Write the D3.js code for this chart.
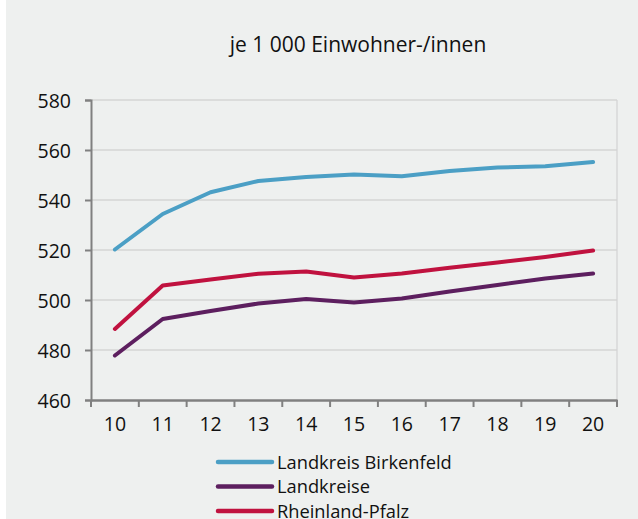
<!DOCTYPE html>
<html>
<head>
<meta charset="utf-8">
<script src="https://cdn.jsdelivr.net/npm/d3@7"></script>
<style>
  body { margin: 0; background: #ffffff; }
  svg { display: block; }
  text { font-family: "Open Sans", sans-serif; fill: #111; }
</style>
</head>
<body>
<script>
// years (20xx), shown as two digits
var years = ["10", "11", "12", "13", "14", "15", "16", "17", "18", "19", "20"];

var birkenfeld = [520.2, 534.4, 543.1, 547.6, 549.2, 550.2, 549.5, 551.6, 553.0, 553.5, 555.2];
var landkreise = [477.8, 492.4, 495.6, 498.6, 500.4, 499.0, 500.6, 503.4, 506.0, 508.6, 510.6];
var rlp = [488.4, 505.8, 508.2, 510.5, 511.4, 509.0, 510.6, 512.9, 515.0, 517.2, 519.8];

var yTicks = [460, 480, 500, 520, 540, 560, 580];

var series = [
  {name: "Landkreis Birkenfeld", values: birkenfeld, color: "#4b9fc5"},
  {name: "Landkreise", values: landkreise, color: "#5d1f5f"},
  {name: "Rheinland-Pfalz", values: rlp, color: "#c0123f"}
];

var W = 638, H = 519;
var margin = {top: 100, right: 21, bottom: 119, left: 91};
var w = W - margin.left - margin.right;
var h = H - margin.top - margin.bottom;

var svg = d3.select("body").append("svg")
  .attr("width", W)
  .attr("height", H);

// grey panel (thin white strip on the left)
svg.append("rect")
  .attr("x", 6).attr("y", 0)
  .attr("width", W - 6).attr("height", H)
  .attr("fill", "#eef0ef");

svg.append("text")
  .attr("x", 358)
  .attr("y", 52)
  .attr("text-anchor", "middle")
  .style("font-size", "21px")
  .text("je 1 000 Einwohner-/innen");

var g = svg.append("g")
  .attr("transform", "translate(" + margin.left + "," + margin.top + ")");

var x = d3.scaleBand().domain(years).range([0, w]);
var y = d3.scaleLinear().domain([460, 580]).range([h, 0]);

// gridlines
g.selectAll(".grid")
  .data(yTicks.slice(1))
  .enter().append("line")
  .attr("x1", 0).attr("x2", w)
  .attr("y1", function(d) { return y(d); })
  .attr("y2", function(d) { return y(d); })
  .attr("stroke", "#c8c8c8")
  .attr("stroke-width", 1.2);

// right border
g.append("line")
  .attr("x1", w).attr("x2", w)
  .attr("y1", 0).attr("y2", h)
  .attr("stroke", "#d2d2d2")
  .attr("stroke-width", 1.2);

// y axis
var yAxis = g.append("g")
  .call(d3.axisLeft(y).tickValues(yTicks).tickSize(6).tickPadding(14));
yAxis.select(".domain").attr("stroke", "#808080").attr("stroke-width", 2);
yAxis.selectAll(".tick line").attr("stroke", "#808080").attr("stroke-width", 2);
yAxis.selectAll("text").style("font-size", "19.5px").attr("fill", "#111")
  .attr("dy", "0.36em");

// x axis with ticks at band edges
var xAxis = g.append("g")
  .attr("transform", "translate(0," + h + ")")
  .call(d3.axisBottom(x).tickSize(0).tickPadding(17));
xAxis.select(".domain").attr("stroke", "#808080").attr("stroke-width", 2.5);
xAxis.selectAll("text").style("font-size", "19.5px").attr("fill", "#111");
var edges = years.map(function(d) { return x(d); }).concat([w]);
xAxis.selectAll(".edge")
  .data(edges)
  .enter().append("line")
  .attr("x1", function(d) { return d; })
  .attr("x2", function(d) { return d; })
  .attr("y1", 0).attr("y2", 7)
  .attr("stroke", "#808080")
  .attr("stroke-width", 2);

var line = d3.line()
  .x(function(d, i) { return x(years[i]) + x.bandwidth() / 2; })
  .y(function(d) { return y(d); });

g.selectAll(".series")
  .data(series)
  .enter().append("path")
  .attr("d", function(d) { return line(d.values); })
  .attr("fill", "none")
  .attr("stroke", function(d) { return d.color; })
  .attr("stroke-width", 4)
  .attr("stroke-linecap", "round")
  .attr("stroke-linejoin", "round");

// legend
var legend = svg.selectAll(".legend")
  .data(series)
  .enter().append("g")
  .attr("transform", function(d, i) { return "translate(218," + (462 + i * 24.5) + ")"; });

legend.append("line")
  .attr("x1", 0).attr("x2", 54)
  .attr("y1", 0).attr("y2", 0)
  .attr("stroke", function(d) { return d.color; })
  .attr("stroke-width", 4.5)
  .attr("stroke-linecap", "round");

legend.append("text")
  .attr("x", 59)
  .attr("y", 6.5)
  .style("font-size", "18.3px")
  .text(function(d) { return d.name; });
</script>
</body>
</html>
